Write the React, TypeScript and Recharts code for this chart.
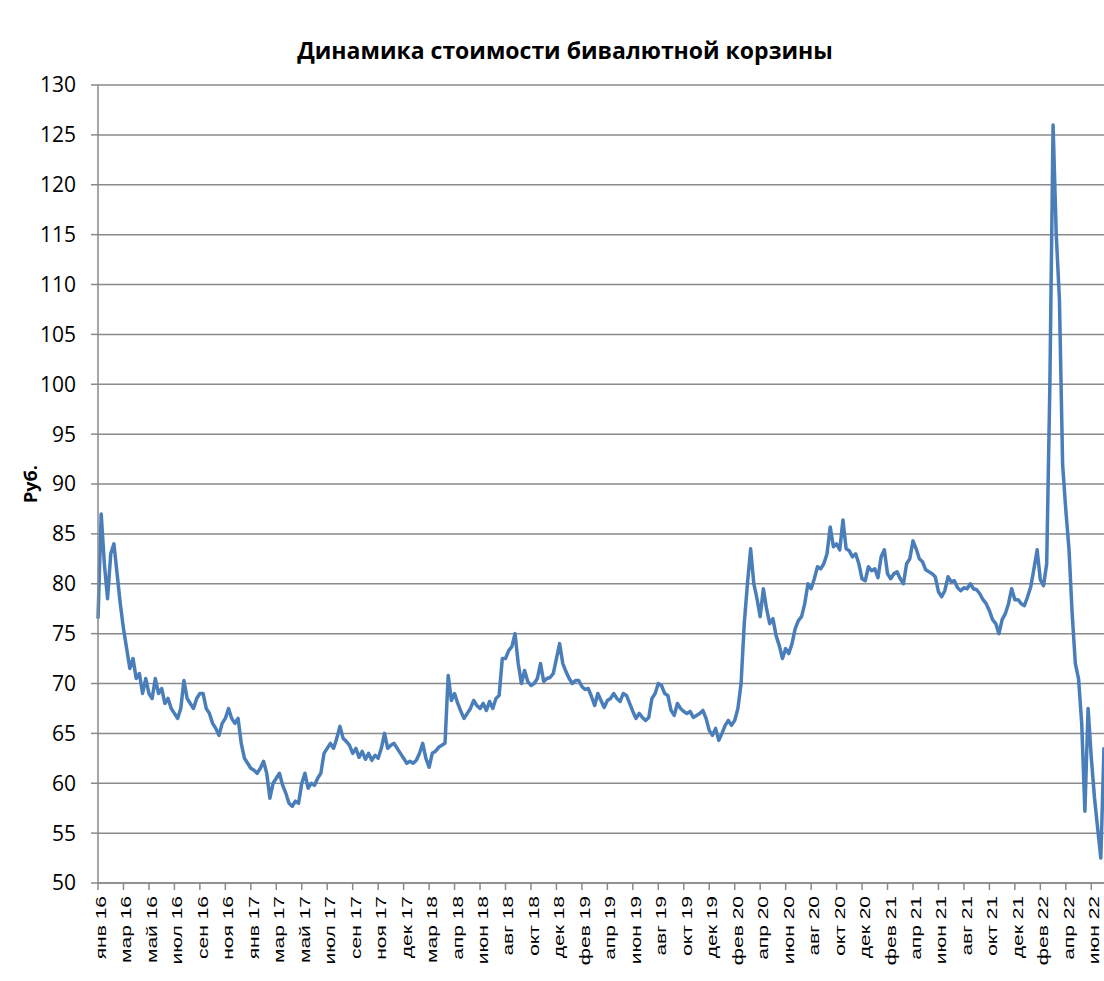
import { CartesianGrid, Line, LineChart, XAxis, YAxis } from "recharts";

// подписи оси X (каждая 8-я точка)
const monthLabels = [
  'янв 16', 'мар 16', 'май 16', 'июл 16', 'сен 16', 'ноя 16', 'янв 17', 'мар 17',
  'май 17', 'июл 17', 'сен 17', 'ноя 17', 'дек 17', 'мар 18', 'апр 18', 'июн 18',
  'авг 18', 'окт 18', 'дек 18', 'фев 19', 'апр 19', 'июн 19', 'авг 19', 'окт 19',
  'дек 19', 'фев 20', 'апр 20', 'июн 20', 'авг 20', 'окт 20', 'дек 20', 'фев 21',
  'апр 21', 'июн 21', 'авг 21', 'окт 21', 'дек 21', 'фев 22', 'апр 22', 'июн 22',
];

const POINTS_PER_LABEL = 8;

// стоимость бивалютной корзины, руб.
const basket = [
  76.5, 87, 82, 78.5, 83, 84, 81, 78,
  75.5, 73.5, 71.5, 72.5, 70.5, 71, 69, 70.5,
  69, 68.5, 70.5, 69, 69.5, 68, 68.5, 67.5,
  67, 66.5, 67.5, 70.3, 68.5, 68, 67.5, 68.5,
  69, 69, 67.5, 67, 66, 65.5, 64.8, 66,
  66.5, 67.5, 66.5, 66, 66.5, 64, 62.5, 62,
  61.5, 61.3, 61, 61.5, 62.2, 61, 58.5, 60,
  60.5, 61, 59.8, 59, 58, 57.7, 58.2, 58,
  60, 61, 59.5, 60, 59.8, 60.5, 61, 63,
  63.5, 64, 63.5, 64.5, 65.7, 64.5, 64.2, 63.8,
  63, 63.5, 62.6, 63.2, 62.4, 63, 62.3, 62.8,
  62.5, 63.5, 65, 63.5, 63.8, 64, 63.5, 63,
  62.5, 62, 62.2, 62, 62.3, 63, 64, 62.5,
  61.6, 63, 63.2, 63.6, 63.8, 64, 70.8, 68.3,
  69, 68, 67.2, 66.5, 67, 67.5, 68.3, 67.8,
  67.5, 68, 67.3, 68.2, 67.5, 68.5, 68.8, 72.5,
  72.5, 73.3, 73.7, 75, 72, 70, 71.3, 70.2,
  69.8, 70, 70.5, 72, 70.2, 70.5, 70.6, 71,
  72.5, 74, 72, 71.2, 70.5, 70, 70.3, 70.3,
  69.7, 69.4, 69.5, 68.7, 67.8, 69, 68.3, 67.6,
  68.3, 68.5, 69, 68.5, 68.2, 69, 68.8, 68,
  67.2, 66.5, 67, 66.6, 66.3, 66.6, 68.5, 69,
  70, 69.8, 69, 68.8, 67.3, 66.8, 68, 67.5,
  67.2, 67, 67.2, 66.6, 66.8, 67, 67.3, 66.5,
  65.3, 64.8, 65.5, 64.3, 65, 65.8, 66.3, 65.8,
  66.3, 67.5, 70, 76, 80, 83.5, 80, 78.5,
  76.7, 79.5, 77.5, 76, 76.5, 74.8, 73.8, 72.5,
  73.5, 73, 74, 75.5, 76.3, 76.7, 78, 80,
  79.5, 80.5, 81.7, 81.5, 82, 83, 85.7, 83.7,
  84, 83.4, 86.4, 83.5, 83.3, 82.7, 83, 82,
  80.5, 80.3, 81.7, 81.3, 81.5, 80.6, 82.7, 83.4,
  81, 80.5, 81, 81.2, 80.5, 80, 82, 82.5,
  84.3, 83.5, 82.5, 82.2, 81.4, 81.2, 81, 80.7,
  79.2, 78.7, 79.3, 80.7, 80.2, 80.3, 79.6, 79.3,
  79.6, 79.5, 80, 79.5, 79.4, 79, 78.4, 78,
  77.3, 76.4, 76, 75, 76.4, 77, 78, 79.5,
  78.4, 78.4, 78, 77.8, 78.7, 79.7, 81.5, 83.4,
  80.4, 79.8, 82, 100, 126, 115, 108.5, 92,
  87.4, 83.5, 77, 72, 70.5, 66, 57.2, 67.5,
  62.6, 58.6, 55.5, 52.5, 63.6,
];

const yTicks = [50, 55, 60, 65, 70, 75, 80, 85, 90, 95, 100, 105, 110, 115, 120, 125, 130];

const data = basket.map((value, idx) => ({ idx, value }));
const xTicks = monthLabels.map((_, k) => k * POINTS_PER_LABEL);

const MonthTick = ({ x, y, payload }: any) => {
  const label = monthLabels[Math.round(payload.value / POINTS_PER_LABEL)];
  return (
    <text
      transform={`translate(${x + 8},${y + 4}) rotate(-90) scale(1,0.68)`}
      textAnchor="end"
      fontFamily="Liberation Sans, Arial, sans-serif"
      fontSize={21}
      fill="#000"
    >
      {label}
    </text>
  );
};

const RubLabel = ({ viewBox }: any) => {
  const cx = viewBox.x + 22;
  const cy = viewBox.y + viewBox.height / 2;
  return (
    <text
      x={cx}
      y={cy}
      transform={`rotate(-90 ${cx} ${cy})`}
      textAnchor="middle"
      dominantBaseline="central"
      fontFamily="Open Sans, sans-serif"
      fontWeight="bold"
      fontSize={18}
      fill="#000"
    >
      Руб.
    </text>
  );
};

export default function App() {
  return (
    <div style={{ position: 'absolute', left: 0, top: 0, width: 1104, height: 981, background: '#fff' }}>
      <div
        style={{
          position: 'absolute',
          top: 35,
          left: 0,
          width: 1130,
          textAlign: 'center',
          fontFamily: 'Open Sans, sans-serif',
          fontWeight: 'bold',
          fontSize: 23,
          lineHeight: '30px',
          color: '#000',
        }}
      >
        Динамика стоимости бивалютной корзины
      </div>
      <LineChart
        width={1104}
        height={981}
        data={data}
        margin={{ top: 85, right: 0, bottom: 8, left: 8 }}
      >
        <CartesianGrid vertical={false} stroke="#8a8a8a" strokeWidth={1.5} />
        <XAxis
          type="number"
          dataKey="idx"
          domain={[0, basket.length - 1]}
          ticks={xTicks}
          interval={0}
          height={90}
          tickSize={7}
          tickLine={{ stroke: '#8a8a8a', strokeWidth: 1.5 }}
          axisLine={{ stroke: '#8a8a8a', strokeWidth: 1.5 }}
          tick={<MonthTick />}
        />
        <YAxis
          type="number"
          domain={[50, 130]}
          ticks={yTicks}
          interval={0}
          width={90}
          tickSize={7}
          tickMargin={15}
          tickLine={{ stroke: '#8a8a8a', strokeWidth: 1.5 }}
          axisLine={{ stroke: '#8a8a8a', strokeWidth: 1.5 }}
          tick={{ fontFamily: 'Open Sans, sans-serif', fontSize: 21, fill: '#000' }}
          label={<RubLabel />}
        />
        <Line
          type="linear"
          dataKey="value"
          stroke="#4a7ebb"
          strokeWidth={3.5}
          strokeLinejoin="round"
          dot={false}
          isAnimationActive={false}
        />
      </LineChart>
    </div>
  );
}
